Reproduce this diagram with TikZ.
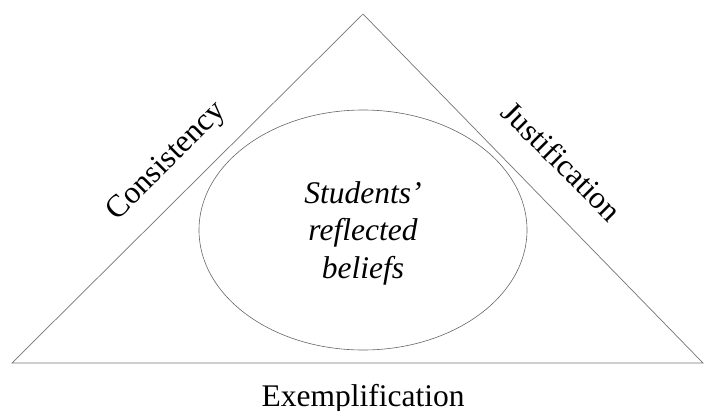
\documentclass[tikz,border=0pt]{standalone}
\usepackage{fontspec}
\setmainfont{Liberation Serif}
\usetikzlibrary{shapes.geometric}
\begin{document}
\begin{tikzpicture}[x=1pt,y=-1pt,
  edge/.style={draw=black!55,line width=0.7pt},
  lbl/.style={inner sep=0pt,font=\fontsize{31.5}{37.5}\selectfont}]
\useasboundingbox (0,0) rectangle (704,410);
\coordinate (apex) at (363,14);
\coordinate (bl) at (12,363);
\coordinate (br) at (703,363);
\draw[edge] (bl) -- (apex) -- (br) -- cycle;
\node[ellipse,minimum width=328pt,minimum height=240pt,inner sep=0pt,
  draw=black!60,line width=0.6pt] (ell) at (363,230) {};
\node[lbl,align=center,font=\fontsize{31.5}{37.5}\selectfont\itshape] (inner) at (363,233)
  {Students’\\reflected\\beliefs};
\node[lbl,rotate=45] (cons) at (167,162) {Consistency};
\node[lbl,rotate=-45] (just) at (562,161) {Justification};
\node[lbl,anchor=base] (ex) at (363,406) {Exemplification};
\end{tikzpicture}
\end{document}
